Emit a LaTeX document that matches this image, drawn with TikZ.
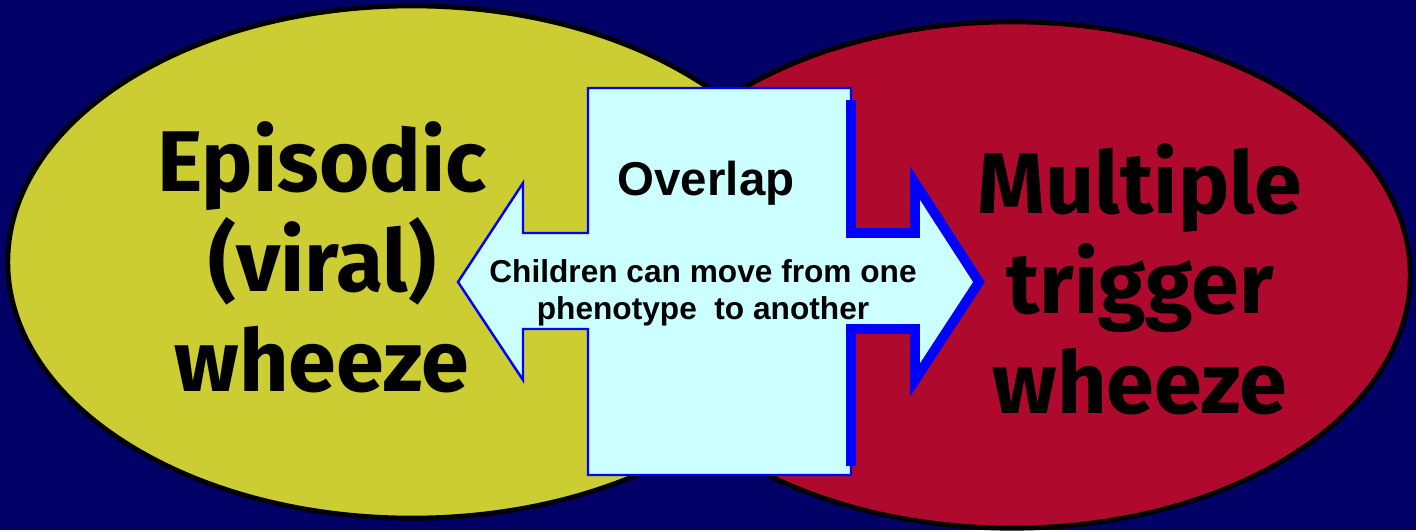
\documentclass[tikz,border=0pt]{standalone}
\usepackage{fontspec}
\usepackage{tikz}
\newfontfamily\wordfont{Fira Sans}
\newfontfamily\arialfont{Liberation Sans}
\definecolor{slidebg}{HTML}{000066}
\definecolor{viralcol}{HTML}{CCCC33}
\definecolor{triggercol}{HTML}{AF0A2E}
\definecolor{overlapcol}{HTML}{CCFFFF}
\definecolor{edgecol}{HTML}{0000FF}

\begin{document}
\begin{tikzpicture}[x=0.01cm, y=-0.01cm,
    bigword/.style={font=\wordfont\bfseries\fontsize{24.5}{28.45}\selectfont, align=center, inner sep=0pt},
    phenotype/.style={fill=#1, draw=black, line width=1.4pt}]
    \def\boxl{588}; % overlap box left x
    \def\boxr{851}; % overlap box right x
    \def\boxt{88}; % overlap box top y
    \def\boxb{475}; % overlap box bottom y
    \def\shaftt{233}; % arrow shaft top y
    \def\shaftb{329}; % arrow shaft bottom y
    \def\headt{183}; % arrow head top y
    \def\headb{380}; % arrow head bottom y
    \def\midy{282}; % arrow tip y
    \def\notchl{523}; % left head base x
    \def\notchr{915}; % right head base x
    \def\tipl{458}; % left tip x
    \def\tipr{979}; % right tip x

    % background %%%%%%%%%%%%%%%%%%%%%%%%%%%%%%%%%%%%%%%%%%%%%%%%%%%%%%%%%%%%%%%%%%%%%%%%%%%%%%%%%%%
    \fill[slidebg] (0,0) rectangle (1416,530);
    \useasboundingbox (0,0) rectangle (1416,530);

    % phenotypes %%%%%%%%%%%%%%%%%%%%%%%%%%%%%%%%%%%%%%%%%%%%%%%%%%%%%%%%%%%%%%%%%%%%%%%%%%%%%%%%%%%
    \draw[phenotype=viralcol] (412,262) ellipse [x radius=4.04cm, y radius=2.56cm];
    \draw[phenotype=triggercol] (1012,275) ellipse [x radius=3.98cm, y radius=2.53cm];

    % overlap arrow %%%%%%%%%%%%%%%%%%%%%%%%%%%%%%%%%%%%%%%%%%%%%%%%%%%%%%%%%%%%%%%%%%%%%%%%%%%%%%%%
    \filldraw[fill=overlapcol, draw=edgecol, line width=0.7pt]
        (\boxl,\boxt) -- (\boxr,\boxt) -- (\boxr,\shaftt) -- (\notchr,\shaftt) -- (\notchr,\headt)
        -- (\tipr,\midy) -- (\notchr,\headb) -- (\notchr,\shaftb) -- (\boxr,\shaftb) -- (\boxr,\boxb)
        -- (\boxl,\boxb) -- (\boxl,\shaftb) -- (\notchl,\shaftb) -- (\notchl,\headb) -- (\tipl,\midy)
        -- (\notchl,\headt) -- (\notchl,\shaftt) -- (\boxl,\shaftt) -- cycle;
    \draw[edgecol, line width=2.8pt]
        (\boxr,100) -- (\boxr,\shaftt) -- (\notchr,\shaftt) -- (\notchr,\headt) -- (\tipr,\midy)
        -- (\notchr,\headb) -- (\notchr,\shaftb) -- (\boxr,\shaftb) -- (\boxr,466);

    % annotations %%%%%%%%%%%%%%%%%%%%%%%%%%%%%%%%%%%%%%%%%%%%%%%%%%%%%%%%%%%%%%%%%%%%%%%%%%%%%%%%%%
    \node[bigword] (episodic) at (322,257) {Episodic\\(viral)\\wheeze};
    \node[bigword] (multiple) at (1140,279) {Multiple\\trigger\\wheeze};
    \node[font=\arialfont\bfseries\fontsize{13.5}{16}\selectfont, inner sep=0pt] (overlap) at (706,183) {Overlap};
    \node[font=\arialfont\bfseries\fontsize{9}{10.5}\selectfont, align=center, inner sep=0pt] (move) at (703,293)
        {Children can move from one\\phenotype~ to another};
\end{tikzpicture}
\end{document}
